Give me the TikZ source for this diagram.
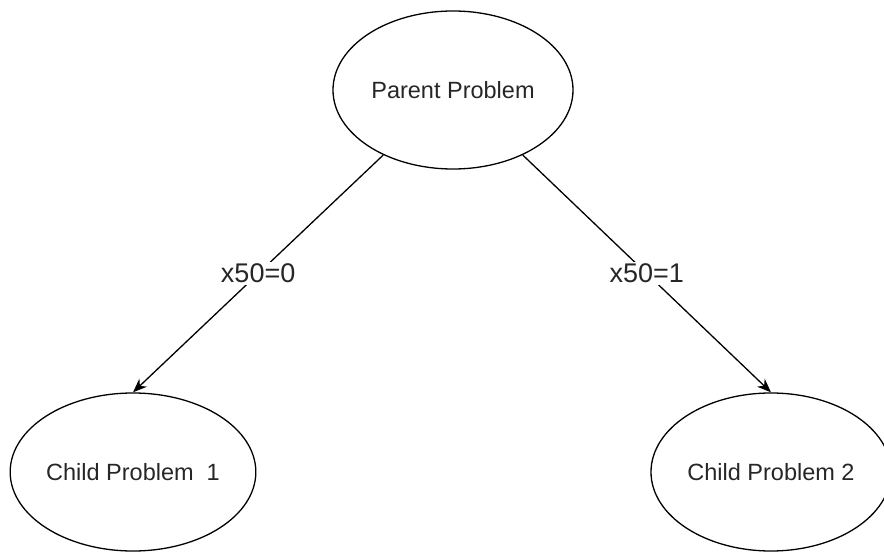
\documentclass[tikz,border=0pt]{standalone}
\usepackage{fontspec}
\setmainfont{Liberation Sans}
\usetikzlibrary{shapes.geometric,arrows.meta}
\begin{document}
\begin{tikzpicture}[x=1pt,y=-1pt,
  prob/.style={draw, ellipse, line width=1.3pt, minimum width=240pt, minimum height=158pt, inner sep=0pt, text=black!85, font=\fontsize{23.5}{28}\selectfont},
  conn/.style={line width=1.3pt, -{Stealth[length=14pt,width=11pt]}},
  lab/.style={fill=white, text=black!85, inner sep=2pt, font=\fontsize{27}{32}\selectfont}]
\useasboundingbox (0,0) rectangle (884,553);
\node[prob] (p) at (453,90) {Parent Problem};
\node[prob] (c1) at (133,472) {Child Problem\ \ 1};
\node[prob] (c2) at (771,472) {Child Problem 2};
\draw[conn] (p.223) -- node[lab, pos=0.5] (l1) {x50=0} (c1.north);
\draw[conn] (p.317) -- node[lab, pos=0.5] (l2) {x50=1} (c2.north);
\end{tikzpicture}
\end{document}
